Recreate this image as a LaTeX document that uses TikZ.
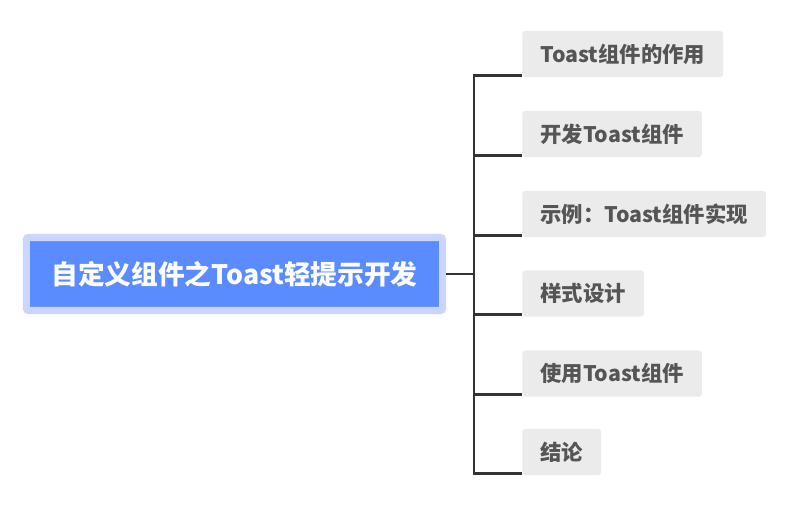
\documentclass[tikz,border=0pt]{standalone}
\usepackage{fontspec}
\setmainfont{Noto Sans CJK SC}
\usetikzlibrary{positioning,calc}

\definecolor{rootblue}{HTML}{5A8CFF}
\definecolor{rootrim}{HTML}{CAD6FF}
\definecolor{topicgray}{HTML}{EBEBEB}
\definecolor{topictext}{HTML}{555555}
\definecolor{linkgray}{HTML}{333333}

\begin{document}
\begin{tikzpicture}[
  x=0.025cm, y=-0.025cm,
  root/.style={rectangle, rounded corners=1.5pt, fill=rootblue, draw=rootrim, line width=5pt,
    minimum width=10.4cm, minimum height=1.825cm, text=white,
    font=\fontsize{19}{23}\selectfont\bfseries},
  topic/.style={rectangle, rounded corners=2pt, fill=topicgray, text=topictext, anchor=west,
    minimum height=1.15cm, inner xsep=0.45cm, font=\fontsize{15.2}{18}\selectfont\bfseries},
  link/.style={draw=linkgray, line width=2.1pt, line join=miter},
]
\useasboundingbox (0,0) rectangle (797,510);

% === CENTRAL TOPIC ===
\node[root] (root) at (234.5, 274) {自定义组件之Toast轻提示开发};
\coordinate (hub) at (474, 274);

% === SUBTOPICS ===
\node[topic] (t1) at (522, 54) {Toast组件的作用};
\node[topic] (t2) at (522, 134) {开发Toast组件};
\node[topic] (t3) at (522, 214) {示例：Toast组件实现};
\node[topic] (t4) at (522, 293.5) {样式设计};
\node[topic] (t5) at (522, 373.5) {使用Toast组件};
\node[topic] (t6) at (522, 452) {结论};

% === CONNECTORS ===
\draw[link] (root.east) -- (hub);
\draw[link] (hub) |- ([yshift=1.5pt]t1.south west);
\draw[link] (hub) |- ([yshift=1.5pt]t2.south west);
\draw[link] (hub) |- ([yshift=1.5pt]t3.south west);
\draw[link] (hub) |- ([yshift=1.5pt]t4.south west);
\draw[link] (hub) |- ([yshift=1.5pt]t5.south west);
\draw[link] (hub) |- ([yshift=1.5pt]t6.south west);
\end{tikzpicture}
\end{document}
